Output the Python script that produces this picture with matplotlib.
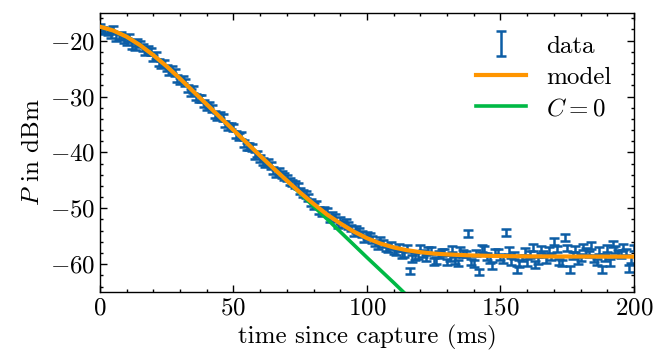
import matplotlib
matplotlib.use("Agg")
from matplotlib import pyplot as plt
from matplotlib.ticker import MultipleLocator

# measured power (dBm), one point per ms
t_data = list(range(0, 201))
p_data = [-17.6, -18.1, -18.3, -18.4, -18.9, -18.0, -19.5, -19.3, -19.1, -19.8,
          -20.2, -19.4, -20.9, -21.0, -20.3, -20.6, -21.2, -21.9, -21.6, -22.0,
          -23.1, -22.7, -23.9, -24.3, -24.1, -24.9, -25.6, -25.2, -25.7, -26.8,
          -27.2, -27.0, -27.5, -28.6, -29.3, -28.8, -30.1, -30.4, -30.3, -31.3,
          -31.9, -31.5, -32.1, -33.2, -33.6, -33.3, -33.8, -34.9, -35.4, -35.3,
          -35.6, -36.8, -37.2, -37.0, -38.4, -38.9, -38.9, -39.1, -40.6, -40.3,
          -41.1, -41.6, -42.0, -41.8, -42.3, -43.2, -43.8, -43.4, -43.9, -44.3,
          -44.6, -45.2, -45.5, -45.8, -46.0, -46.9, -47.3, -47.5, -48.1, -48.9,
          -49.6, -49.3, -50.4, -50.8, -50.3, -50.6, -51.9, -51.2, -51.6, -52.9,
          -52.2, -52.8, -52.6, -53.1, -53.5, -54.4, -53.8, -54.2, -54.6, -55.4,
          -54.9, -55.1, -55.6, -56.2, -56.6, -55.8, -56.3, -57.0, -57.3, -56.6,
          -57.6, -57.8, -57.0, -58.3, -58.2, -57.2, -61.2, -59.0, -58.6, -58.4,
          -57.1, -58.1, -58.9, -57.5, -57.6, -59.5, -59.3, -58.3, -57.9, -57.8,
          -59.6, -58.9, -57.3, -59.3, -59.8, -57.6, -58.1, -58.2, -54.5, -59.6,
          -59.9, -58.0, -61.4, -57.2, -57.4, -58.6, -59.2, -60.2, -57.8, -57.9,
          -58.7, -59.1, -54.3, -57.5, -59.5, -58.4, -61.0, -59.9, -58.9, -57.7,
          -59.7, -58.3, -57.0, -60.0, -59.4, -57.4, -58.2, -59.1, -57.6, -58.6,
          -56.0, -57.3, -59.6, -59.8, -55.2, -57.1, -60.9, -58.5, -57.3, -59.4,
          -58.8, -56.9, -57.7, -58.2, -56.6, -59.0, -59.6, -57.6, -60.9, -58.8,
          -57.2, -59.7, -56.4, -57.4, -58.1, -58.3, -56.9, -57.8, -60.8, -59.2,
          -57.1]
p_err = 0.6

# fitted model
t_model = [0, 5, 10, 15, 20, 25, 30, 35, 40, 45, 50, 55, 60, 65, 70, 75, 80, 85,
           90, 95, 100, 105, 110, 115, 120, 125, 130, 140, 150, 160, 170, 180, 190, 200]
p_model = [-17.5, -18.2, -19.3, -20.8, -22.6, -24.6, -26.8, -29.1, -31.4, -33.7,
           -36.0, -38.3, -40.6, -42.85, -45.05, -47.2, -49.2, -51.1, -52.7, -54.15,
           -55.35, -56.3, -57.0, -57.5, -57.85, -58.1, -58.25, -58.45, -58.55, -58.6,
           -58.62, -58.63, -58.64, -58.65]

# model without noise floor
t_c0 = [0, 5, 10, 15, 20, 25, 30, 35, 40, 45, 50, 55, 60, 65, 70, 75, 80, 85,
        90, 95, 100, 105, 110, 115, 120]
p_c0 = [-17.5, -18.2, -19.3, -20.8, -22.6, -24.6, -26.8, -29.1, -31.4, -33.7,
        -36.0, -38.3, -40.6, -42.85, -45.05, -47.35, -49.65, -51.9, -54.2, -56.5,
        -58.8, -61.05, -63.3, -65.6, -67.9]

plt.rcParams['font.family'] = 'serif'
plt.rcParams['font.serif'] = ['cmr10', 'DejaVu Serif']
plt.rcParams['mathtext.fontset'] = 'cm'
plt.rcParams['axes.formatter.use_mathtext'] = True
plt.rcParams['font.size'] = 18
plt.rcParams['axes.linewidth'] = 1.0

fig = plt.figure(figsize=(6.66, 3.62), dpi=100)
ax = fig.add_axes([0.150, 0.193, 0.802, 0.772])

ax.errorbar(t_data, p_data, yerr=p_err, fmt='none', ecolor='#0C5DA5',
            elinewidth=1.8, capsize=3.5, capthick=1.8, label='data', zorder=2)
ax.plot(t_c0, p_c0, color='#00B945', lw=2.6, label='$C = 0$', zorder=3)
ax.plot(t_model, p_model, color='#FF9500', lw=3.0, label='model', zorder=4)

ax.set_xlim(0, 200)
ax.set_ylim(-65, -15)
ax.xaxis.set_major_locator(MultipleLocator(50))
ax.xaxis.set_minor_locator(MultipleLocator(10))
ax.yaxis.set_major_locator(MultipleLocator(10))
ax.yaxis.set_minor_locator(MultipleLocator(2))
ax.tick_params(which='both', direction='in', top=True, right=True, width=1.0)
ax.tick_params(which='major', length=5)
ax.tick_params(which='minor', length=2.5)

ax.set_xlabel('time since capture (ms)')
ax.set_ylabel('$P$ in dBm')

h, l = ax.get_legend_handles_labels()
order = [l.index('data'), l.index('model'), l.index('$C = 0$')]
ax.legend([h[i] for i in order], [l[i] for i in order], loc='upper right',
          frameon=False, handlelength=2.0, borderaxespad=0.5, labelspacing=0.35)

fig.savefig('out.png', dpi=100)
